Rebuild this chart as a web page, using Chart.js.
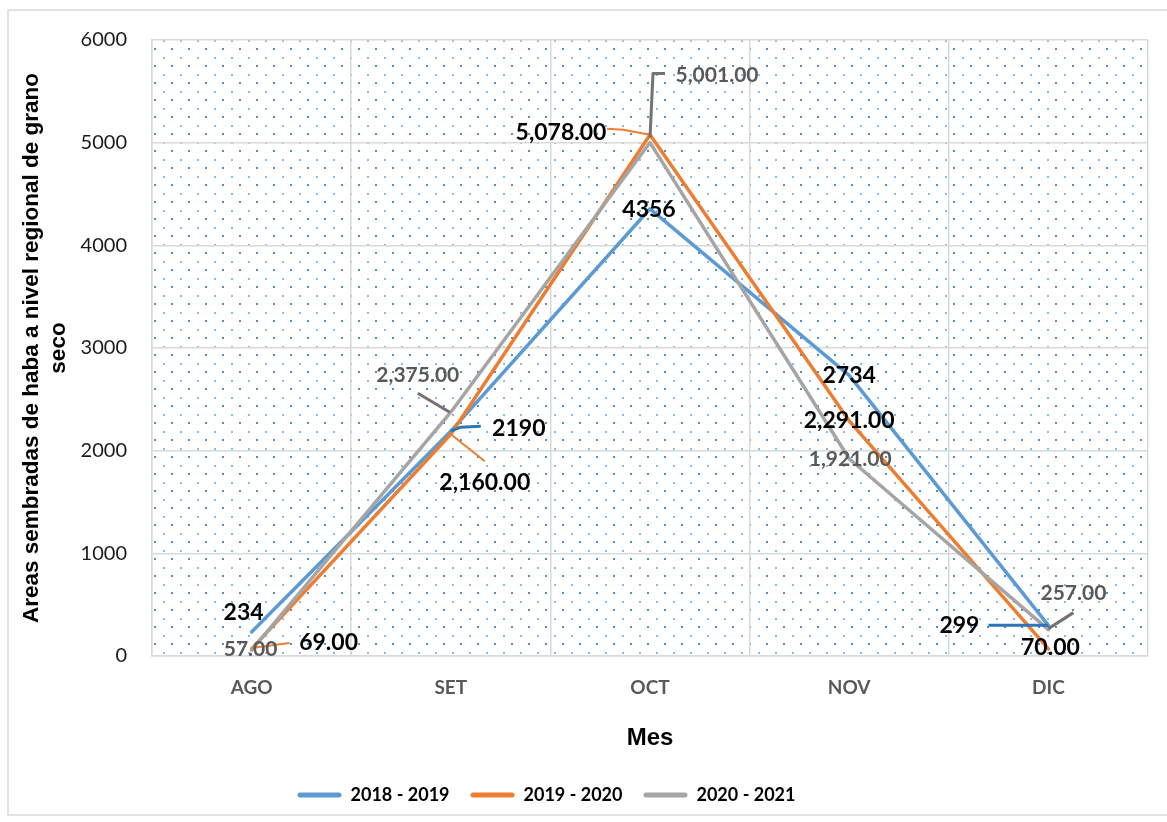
<!DOCTYPE html>
<html>
<head>
<meta charset="utf-8">
<script src="https://cdn.jsdelivr.net/npm/chart.js@4.4.1/dist/chart.umd.min.js"></script>
<style>
    html, body { margin: 0; padding: 0; background: #ffffff; }
    #wrap { position: relative; width: 1167px; height: 822px; }
</style>
</head>
<body>
<div id="wrap"><canvas id="areaschart"></canvas></div>
<script>
// ==========================================
// Datos
// ==========================================
const meses = ['AGO', 'SET', 'OCT', 'NOV', 'DIC'];
const campanias = ['2018 - 2019', '2019 - 2020', '2020 - 2021'];
const areas2018 = [234, 2190, 4356, 2734, 299];
const areas2019 = [69, 2160, 5078, 2291, 70];
const areas2020 = [57, 2375, 5001, 1921, 257];
const yTicks = [0, 1000, 2000, 3000, 4000, 5000, 6000];

const azul = '#5b9bd5';
const naranja = '#ed7d31';
const gris = '#a5a5a5';

// posición de cada etiqueta respecto a su punto (px) y líneas guía
const etiquetasCfg = [
    {
        font: 'bold 23px Lato', color: '#000000',
        format: v => String(v),
        leaderColor: '#2e75b6', leaderWidth: 3,
        offsets: [[-8, -19], [68, -3], [-1, 1], [0, 0], [-89, 0]],
        leaders: [null, [[0, 0], [10, -4], [30, -5]], null, null, [[0, 0], [-60, 0]]]
    },
    {
        font: 'bold 23px Lato', color: '#000000',
        format: v => v.toLocaleString('en-US', { minimumFractionDigits: 2, maximumFractionDigits: 2 }),
        leaderColor: naranja, leaderWidth: 2,
        offsets: [[77, -6], [34, 48], [-89, -2], [0, 0], [2, -1]],
        leaders: [[[0, -1], [38, -6]], [[0, 0], [34, 27]], [[0, 0], [-27, -5], [-43, -6]], null, null]
    },
    {
        font: 'bold 21px Lato', color: '#595959',
        format: v => v.toLocaleString('en-US', { minimumFractionDigits: 2, maximumFractionDigits: 2 }),
        leaderColor: '#767171', leaderWidth: 3,
        offsets: [[-1, -1], [-33, -37], [67, -67], [1, 0], [25, -36]],
        leaders: [null, [[-1, 0], [-33, -19]], [[0, -5], [3, -69], [15, -69]], null, [[0, -1], [25, -17]]]
    }
];

// fondo punteado + marco exterior
const fondo = {
    id: 'fondo',
    afterLayout(chart) {
        // la leyenda del original está centrada algo más a la izquierda
        if (chart.legend) chart.legend.right -= 55;
    },
    beforeDraw(chart) {
        const { ctx, chartArea: a } = chart;
        ctx.save();
        ctx.strokeStyle = '#d9d9d9';
        ctx.lineWidth = 1.5;
        ctx.strokeRect(8, 10, 1175, 805);

        const tile = document.createElement('canvas');
        tile.width = 17;
        tile.height = 17;
        const t = tile.getContext('2d');
        t.fillStyle = '#4f8fd0';
        t.fillRect(0, 0, 2, 2);
        t.fillStyle = '#8cb8e4';
        t.fillRect(9, 9, 2, 2);
        const pat = ctx.createPattern(tile, 'repeat');
        pat.setTransform(new DOMMatrix().translate(a.left + 2, a.top + 8));
        ctx.fillStyle = pat;
        ctx.fillRect(a.left, a.top, a.right - a.left, a.bottom - a.top);
        ctx.restore();
    }
};

// etiquetas de datos con líneas guía
const etiquetas = {
    id: 'etiquetas',
    afterDatasetsDraw(chart) {
        const ctx = chart.ctx;
        chart.data.datasets.forEach((ds, i) => {
            const meta = chart.getDatasetMeta(i);
            const cfg = etiquetasCfg[i];
            meta.data.forEach((pt, j) => {
                const lead = cfg.leaders[j];
                if (lead) {
                    ctx.save();
                    ctx.strokeStyle = cfg.leaderColor;
                    ctx.lineWidth = cfg.leaderWidth;
                    ctx.lineJoin = 'round';
                    ctx.beginPath();
                    lead.forEach((p, k) => {
                        if (k === 0) ctx.moveTo(pt.x + p[0], pt.y + p[1]);
                        else ctx.lineTo(pt.x + p[0], pt.y + p[1]);
                    });
                    ctx.stroke();
                    ctx.restore();
                }
                const off = cfg.offsets[j];
                ctx.save();
                ctx.font = cfg.font;
                ctx.fillStyle = cfg.color;
                ctx.textAlign = 'center';
                ctx.textBaseline = 'middle';
                ctx.fillText(cfg.format(ds.data[j]), pt.x + off[0], pt.y + off[1]);
                ctx.restore();
            });
        });
    }
};

const ctxAreas = document.getElementById('areaschart');

new Chart(ctxAreas, {
    type: 'line',
    data: {
        labels: meses,
        datasets: [
            { label: campanias[0], data: areas2018, borderColor: azul, backgroundColor: azul, order: 3 },
            { label: campanias[1], data: areas2019, borderColor: naranja, backgroundColor: naranja, order: 2 },
            { label: campanias[2], data: areas2020, borderColor: gris, backgroundColor: gris, order: 1 }
        ]
    },
    options: {
        responsive: true,
        maintainAspectRatio: false,
        animation: false,
        layout: { padding: { top: 40, right: 19, bottom: 8, left: 0 } },
        elements: {
            line: { borderWidth: 3.5, tension: 0, borderCapStyle: 'round', borderJoinStyle: 'round', fill: false },
            point: { radius: 0, hoverRadius: 0 }
        },
        plugins: {
            tooltip: { enabled: false },
            legend: {
                position: 'bottom',
                labels: {
                    boxWidth: 44,
                    boxHeight: 5,
                    useBorderRadius: true,
                    borderRadius: 2.5,
                    color: '#000000',
                    font: { family: 'Lato', size: 18, weight: 'bold' },
                    padding: 21,
                    sort: (a, b) => a.datasetIndex - b.datasetIndex,
                    generateLabels: chart => Chart.defaults.plugins.legend.labels.generateLabels(chart)
                        .map(l => Object.assign(l, { lineWidth: 0 }))
                }
            }
        },
        scales: {
            x: {
                offset: true,
                grid: { offset: true, color: '#d9d9d9', lineWidth: 1.5, drawTicks: false },
                border: { color: '#d9d9d9', width: 1.5 },
                ticks: { color: '#595959', font: { family: 'Lato', size: 19, weight: 'bold' }, padding: 20 },
                title: {
                    display: true,
                    text: 'Mes',
                    color: '#000000',
                    font: { family: 'Liberation Sans', size: 24, weight: 'bold' },
                    padding: { top: 0, bottom: 12 }
                },
                afterFit(scale) { scale.height = 109; }
            },
            y: {
                min: 0,
                max: 6000,
                afterBuildTicks(scale) { scale.ticks = yTicks.map(v => ({ value: v })); },
                grid: { color: '#d9d9d9', lineWidth: 1.5, drawTicks: false },
                border: { color: '#d9d9d9', width: 1.5 },
                ticks: {
                    color: '#1a1a1a',
                    font: { family: 'Lato', size: 20 },
                    padding: 25,
                    callback: v => String(v)
                },
                title: {
                    display: true,
                    text: ['Areas sembradas de haba a nivel regional de grano', 'seco'],
                    color: '#000000',
                    font: { family: 'Liberation Sans', size: 22.5, weight: 'bold' },
                    padding: { top: 18, bottom: 0 }
                },
                afterFit(scale) { scale.width = 152; }
            }
        }
    },
    plugins: [fondo, etiquetas]
});
</script>
</body>
</html>
